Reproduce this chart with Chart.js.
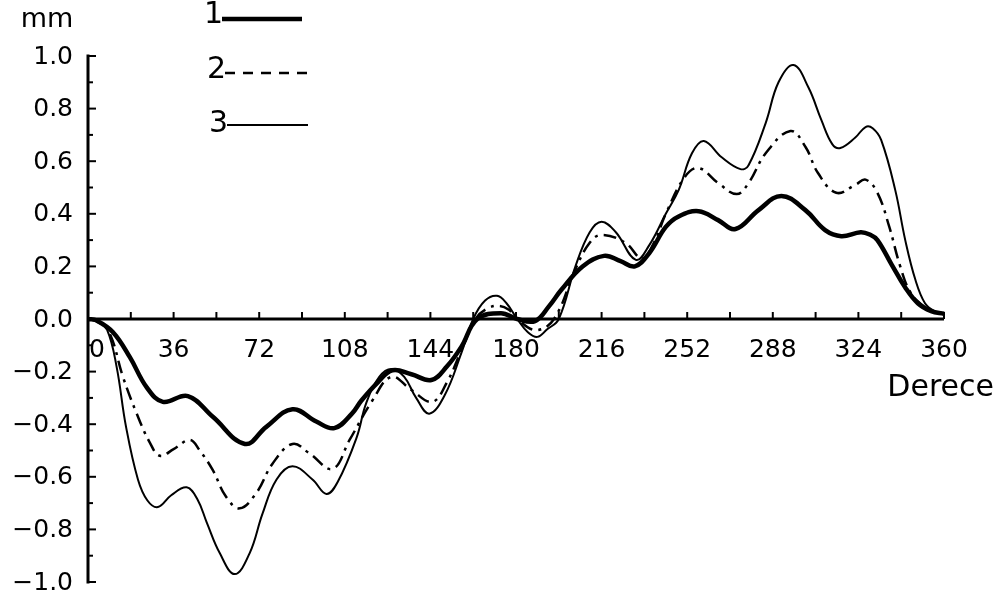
<!DOCTYPE html>
<html lang="tr">
<head>
<meta charset="UTF-8">
<title>Derece - mm</title>
<script src="https://cdn.jsdelivr.net/npm/chart.js"></script>
<style>
  body { margin: 0; background: #fff; }
  #wrap { width: 1005px; height: 601px; }
</style>
</head>
<body>
<div id="wrap"><canvas id="chart" width="1005" height="601"></canvas></div>
<script>
// curve 1 (thick)
const deg1 = [0, 3.5, 10.5, 17.6, 24.7, 31.5, 42, 52.5, 66, 75, 86, 96, 103.6, 111, 115, 122, 128, 136, 144.4, 151, 157, 163.7, 173.7, 180.5, 188, 194, 199, 208, 217, 224, 230, 236, 243, 248.4, 256.8, 265, 272.3, 282, 291.6, 301.7, 310, 316.8, 325, 329, 332, 337.8, 343.7, 349, 354.6, 360];
const mm1  = [0, -0.005, -0.05, -0.145, -0.26, -0.315, -0.293, -0.372, -0.475, -0.41, -0.343, -0.39, -0.415, -0.36, -0.31, -0.24, -0.195, -0.21, -0.232, -0.18, -0.106, 0, 0.022, 0, -0.008, 0.05, 0.11, 0.2, 0.24, 0.22, 0.20, 0.25, 0.35, 0.39, 0.41, 0.376, 0.342, 0.414, 0.468, 0.414, 0.338, 0.315, 0.33, 0.32, 0.30, 0.21, 0.12, 0.06, 0.03, 0.02];

// curve 2 (dash-dot)
const deg2 = [0, 4, 9, 14.7, 20.5, 26, 30.2, 36, 42.8, 47, 52.5, 58, 63.8, 70.9, 77.6, 86, 93, 102.8, 110, 119.6, 127.6, 136, 144.8, 151, 157, 163, 168, 173, 177, 180.5, 188.4, 196, 205, 211, 216, 226, 233, 238, 243, 251, 256.8, 265, 272.8, 277.8, 285, 295.4, 301.7, 307, 314.7, 322.7, 327, 332, 337, 341.6, 346, 352, 356, 360];
const mm2  = [0, -0.01, -0.053, -0.22, -0.36, -0.47, -0.52, -0.495, -0.46, -0.5, -0.575, -0.675, -0.72, -0.66, -0.55, -0.475, -0.51, -0.57, -0.46, -0.31, -0.22, -0.27, -0.315, -0.24, -0.12, 0, 0.04, 0.05, 0.035, 0, -0.042, 0, 0.19, 0.29, 0.32, 0.29, 0.23, 0.29, 0.40, 0.54, 0.574, 0.517, 0.475, 0.517, 0.63, 0.715, 0.655, 0.555, 0.48, 0.51, 0.53, 0.48, 0.35, 0.20, 0.10, 0.045, 0.03, 0.02];

// curve 3 (thin)
const deg3 = [0, 4, 8, 12, 16, 21, 25, 29.4, 35, 41.5, 46, 50, 55.4, 61.7, 68, 73.4, 79.3, 86, 94.4, 100.3, 105, 113, 117, 122.5, 127.6, 133, 138, 143.5, 150, 157, 162, 167, 172, 176, 180.5, 185, 189, 193, 198, 205, 211, 216, 222, 230.4, 236, 243, 248.4, 254, 259, 266.5, 274.4, 277.8, 285, 290.4, 296.7, 303, 308.4, 313, 316.4, 322.7, 327, 330, 333.6, 339.5, 343.7, 348, 352, 356, 360];
const mm3  = [0, -0.01, -0.04, -0.18, -0.41, -0.61, -0.69, -0.715, -0.67, -0.64, -0.685, -0.775, -0.89, -0.97, -0.89, -0.74, -0.61, -0.56, -0.61, -0.665, -0.62, -0.45, -0.32, -0.22, -0.19, -0.22, -0.30, -0.36, -0.29, -0.13, 0, 0.07, 0.088, 0.06, 0, -0.05, -0.068, -0.04, 0, 0.20, 0.33, 0.37, 0.33, 0.225, 0.28, 0.40, 0.49, 0.63, 0.677, 0.615, 0.57, 0.585, 0.745, 0.90, 0.966, 0.88, 0.757, 0.665, 0.65, 0.69, 0.73, 0.725, 0.68, 0.49, 0.30, 0.148, 0.06, 0.03, 0.02];

const xTicks = [0, 36, 72, 108, 144, 180, 216, 252, 288, 324, 360];
const yTicks = [1.0, 0.8, 0.6, 0.4, 0.2, 0.0, -0.2, -0.4, -0.6, -0.8, -1.0];
const seriesNames = ['1', '2', '3'];

const FONT = '"DejaVu Sans", sans-serif';

function toPoints(xs, ys) {
  return xs.map((x, i) => ({ x: x, y: ys[i] }));
}

// axes, ticks, labels and legend drawn by hand so they sit like the printed figure
const axesPlugin = {
  id: 'axesPlugin',
  afterDatasetsDraw(chart) {
    const ctx = chart.ctx;
    const xs = chart.scales.x;
    const ys = chart.scales.y;
    const x0 = xs.getPixelForValue(0);
    const x360 = xs.getPixelForValue(360);
    const y0 = ys.getPixelForValue(0);
    const yTop = ys.getPixelForValue(1);
    const yBot = ys.getPixelForValue(-1);

    ctx.save();
    ctx.strokeStyle = '#000';
    ctx.fillStyle = '#000';
    ctx.lineCap = 'butt';

    // y axis
    ctx.lineWidth = 3;
    ctx.beginPath();
    ctx.moveTo(x0, yTop - 1.5);
    ctx.lineTo(x0, yBot + 1.5);
    ctx.stroke();
    ctx.lineWidth = 2;
    for (let i = -10; i <= 10; i++) {
      const py = ys.getPixelForValue(i / 10);
      const len = (i % 2 === 0) ? 8 : 5;
      ctx.beginPath();
      ctx.moveTo(x0, py);
      ctx.lineTo(x0 + len, py);
      ctx.stroke();
    }

    // x axis
    ctx.lineWidth = 3;
    ctx.beginPath();
    ctx.moveTo(x0, y0);
    ctx.lineTo(x360, y0);
    ctx.stroke();
    ctx.lineWidth = 2;
    for (let d = 18; d <= 360; d += 18) {
      const px = xs.getPixelForValue(d);
      ctx.beginPath();
      ctx.moveTo(px, y0);
      ctx.lineTo(px, y0 - 7);
      ctx.stroke();
    }

    // y labels
    ctx.font = '25px ' + FONT;
    ctx.textAlign = 'right';
    ctx.textBaseline = 'middle';
    yTicks.forEach(v => {
      const txt = v.toFixed(1).replace('-', '\u2212');
      ctx.fillText(txt, 73, ys.getPixelForValue(v) + 1);
    });

    // x labels
    ctx.textAlign = 'center';
    xTicks.forEach(v => {
      const px = xs.getPixelForValue(v);
      if (v === 0) {
        ctx.textAlign = 'left';
        ctx.fillText('0', px + 1, y0 + 31);
        ctx.textAlign = 'center';
      } else {
        ctx.fillText(String(v), px, y0 + 31);
      }
    });

    // axis titles
    ctx.font = '27px ' + FONT;
    ctx.textAlign = 'center';
    ctx.fillText('mm', 47, 20);
    ctx.font = '30px ' + FONT;
    ctx.textAlign = 'right';
    ctx.fillText('Derece', 994, 388);

    // legend
    const rows = [
      { ty: 15, ly: 19, x1: 222, x2: 302 },
      { ty: 70, ly: 73, x1: 225, x2: 315 },
      { ty: 124, ly: 125, x1: 227, x2: 308 }
    ];
    const legendDash = [[], [10, 8], []];
    chart.data.datasets.forEach((ds, i) => {
      const r = rows[i];
      ctx.font = '30px ' + FONT;
      ctx.textAlign = 'right';
      ctx.fillText(seriesNames[i], r.x1 + 1, r.ty);
      ctx.lineWidth = ds.borderWidth;
      ctx.setLineDash(legendDash[i]);
      ctx.beginPath();
      ctx.moveTo(r.x1, r.ly);
      ctx.lineTo(r.x2, r.ly);
      ctx.stroke();
      ctx.setLineDash([]);
    });

    ctx.restore();
  }
};

new Chart(document.getElementById('chart'), {
  type: 'line',
  data: {
    datasets: [
      { label: seriesNames[0], data: toPoints(deg1, mm1), borderColor: '#000', borderWidth: 4.5 },
      { label: seriesNames[1], data: toPoints(deg2, mm2), borderColor: '#000', borderWidth: 2.5, borderDash: [13, 6, 3, 6] },
      { label: seriesNames[2], data: toPoints(deg3, mm3), borderColor: '#000', borderWidth: 2 }
    ]
  },
  options: {
    responsive: false,
    animation: false,
    clip: false,
    layout: { padding: { left: 88, right: 61, top: 56, bottom: 19 } },
    elements: {
      point: { radius: 0 },
      line: { tension: 0.4, fill: false }
    },
    scales: {
      x: { type: 'linear', min: 0, max: 360, display: false },
      y: { type: 'linear', min: -1, max: 1, display: false }
    },
    plugins: {
      legend: { display: false },
      tooltip: { enabled: false }
    }
  },
  plugins: [axesPlugin]
});
</script>
</body>
</html>
